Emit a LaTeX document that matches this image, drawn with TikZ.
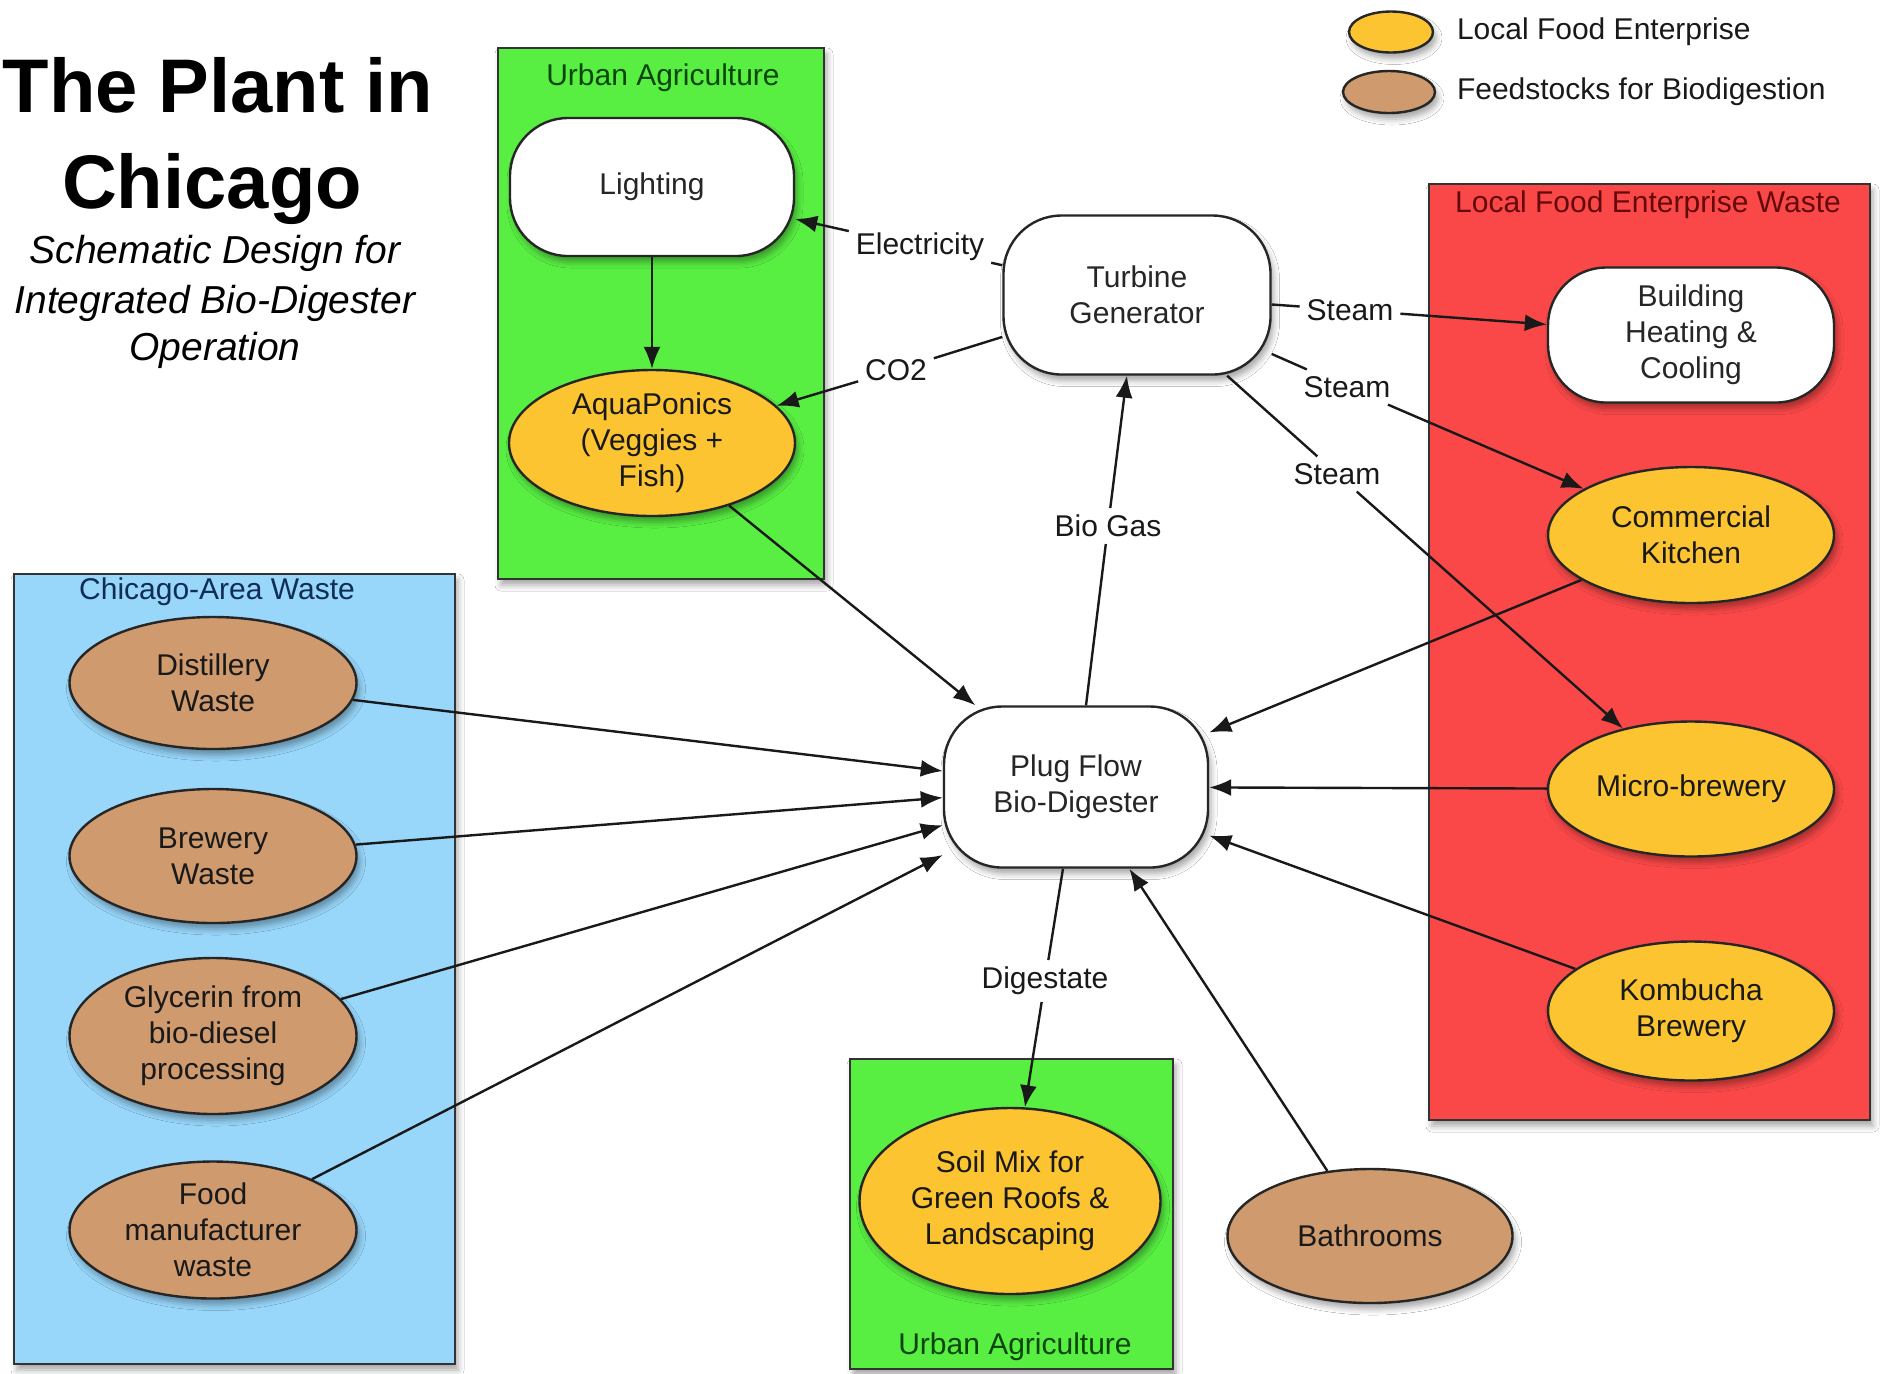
\documentclass[tikz,border=0pt]{standalone}
\usepackage{fontspec}
\setmainfont{Liberation Sans}
\usetikzlibrary{arrows.meta,shapes.geometric,shadows.blur}

\definecolor{uagreen}{RGB}{88,238,66}
\definecolor{uagreentext}{RGB}{10,70,10}
\definecolor{wasteblue}{RGB}{152,214,250}
\definecolor{wastebluetext}{RGB}{15,45,85}
\definecolor{enterred}{RGB}{250,72,72}
\definecolor{enterredtext}{RGB}{100,10,10}
\definecolor{foodyellow}{RGB}{252,196,48}
\definecolor{feedbrown}{RGB}{206,154,110}

\newcommand{\diafont}{\fontsize{15}{18}\selectfont}

\tikzset{every picture/.style={line width=1pt}}
\tikzset{
  softshadow/.style={blur shadow={shadow xshift=1.5pt, shadow yshift=-3pt, shadow blur radius=3pt, shadow opacity=35}},
  area/.style={draw=black!80, line width=1.3pt, softshadow},
  areatitle/.style={font=\diafont, inner sep=1pt},
  roundbox/.style={draw=black!85, fill=white, line width=1.2pt, rounded corners=29pt, align=center, font=\diafont, text=black!85, softshadow},
  blob/.style={ellipse, draw=black!85, line width=1.2pt, inner sep=-10pt, align=center, font=\diafont, text=black!90, softshadow},
  food/.style={blob, fill=foodyellow},
  feed/.style={blob, fill=feedbrown},
  lbl/.style={font=\diafont, text=black!90, inner sep=3pt},
  link/.style={line width=1.2pt, black!90},
  flow/.style={link, -{Latex[length=11pt,width=8.5pt]}},
}

\begin{document}
\begin{tikzpicture}[x=0.5pt,y=0.5pt,yscale=-1,xscale=1]
\useasboundingbox (0,0) rectangle (1883,1373);
\fill[white] (0,0) rectangle (1883,1373);

% Title
\node[font=\fontsize{38}{46}\selectfont\bfseries, anchor=base, inner sep=0] (title1) at (218,112) {The Plant in};
\node[font=\fontsize{38}{46}\selectfont\bfseries, anchor=base, inner sep=0] (title2) at (212,208) {Chicago};
\node[font=\fontsize{19.5}{24}\selectfont\itshape, anchor=base, inner sep=0] (sub1) at (215,263) {Schematic Design for};
\node[font=\fontsize{19.5}{24}\selectfont\itshape, anchor=base, inner sep=0] (sub2) at (215,313) {Integrated Bio-Digester};
\node[font=\fontsize{19.5}{24}\selectfont\itshape, anchor=base, inner sep=0] (sub3) at (215,360) {Operation};

%Shape: Rectangle (areas)
\draw[area, fill=uagreen] (498,48) rectangle (824,579);
\draw[area, fill=uagreen] (850,1059) rectangle (1173,1369);
\draw[area, fill=wasteblue] (14,574) rectangle (455,1364);
\draw[area, fill=enterred] (1429,184) rectangle (1870,1120);

% Text Node (area titles)
\node[areatitle, text=uagreentext] (uatop) at (663,78) {Urban Agriculture};
\node[areatitle, text=uagreentext] (uabot) at (1015,1347) {Urban Agriculture};
\node[areatitle, text=wastebluetext] (cawaste) at (217,592) {Chicago-Area Waste};
\node[areatitle, text=enterredtext] (lfwaste) at (1648,205) {Local Food Enterprise Waste};

% Legend
\node[food, minimum width=42pt, minimum height=20.5pt] (lgfood) at (1391,32) {};
\node[feed, minimum width=46pt, minimum height=21pt] (lgfeed) at (1389,92) {};
\node[lbl, anchor=west] (lgfoodtxt) at (1450,32) {Local Food Enterprise};
\node[lbl, anchor=west] (lgfeedtxt) at (1450,92) {Feedstocks for Biodigestion};

% Urban agriculture
\node[roundbox, minimum width=142pt, minimum height=69pt] (lighting) at (652,187) {Lighting};
\node[food, minimum width=143pt, minimum height=73pt] (aquaponics) at (652,443) {AquaPonics\\(Veggies +\\Fish)};
\node[food, minimum width=150.5pt, minimum height=93pt] (soilmix) at (1010,1201) {Soil Mix for\\Green Roofs \&\\Landscaping};

% Plant core
\node[roundbox, minimum width=133.5pt, minimum height=79.5pt] (turbine) at (1137,295) {Turbine\\Generator};
\node[roundbox, minimum width=132pt, minimum height=80.5pt] (digester) at (1076,787) {Plug Flow\\Bio-Digester};

% Local food enterprise waste
\node[roundbox, minimum width=143pt, minimum height=67.5pt] (heating) at (1691,335) {Building\\Heating \&\\Cooling};
\node[food, minimum width=143pt, minimum height=68pt] (kitchen) at (1691,535) {Commercial\\Kitchen};
\node[food, minimum width=143pt, minimum height=67.5pt] (microbrew) at (1691,789) {Micro-brewery};
\node[food, minimum width=143pt, minimum height=69.5pt] (kombucha) at (1691,1011) {Kombucha\\Brewery};

% Chicago-area waste
\node[feed, minimum width=143.5pt, minimum height=66pt] (distillery) at (213,683) {Distillery\\Waste};
\node[feed, minimum width=143.5pt, minimum height=67pt] (brewery) at (213,856) {Brewery\\Waste};
\node[feed, minimum width=143.5pt, minimum height=78pt] (glycerin) at (213,1036) {Glycerin from\\bio-diesel\\processing};
\node[feed, minimum width=143.5pt, minimum height=68.5pt] (foodwaste) at (213,1230) {Food\\manufacturer\\waste};
\node[feed, minimum width=142.5pt, minimum height=67pt] (bathrooms) at (1370,1236) {Bathrooms};

% Text Node (connector labels)
\node[lbl] (elec) at (920,247) {Electricity};
\node[lbl] (co2) at (896,370) {CO2};
\node[lbl] (steamA) at (1350,310) {Steam};
\node[lbl] (steamB) at (1347,387) {Steam};
\node[lbl] (steamC) at (1337,474) {Steam};
\node[lbl] (biogas) at (1108,526) {Bio Gas};
\node[lbl] (digestate) at (1045,981) {Digestate};

% Connectors
\draw[link] (turbine) -- (elec);
\draw[flow] (elec) -- (lighting);
\draw[link] (turbine) -- (co2);
\draw[flow] (co2) -- (aquaponics);
\draw[flow] (lighting) -- (aquaponics);
\draw[link] (turbine) -- (steamA);
\draw[flow] (steamA) -- (heating);
\draw[link] (turbine) -- (steamB);
\draw[flow] (steamB) -- (kitchen);
\draw[link] (turbine) -- (steamC);
\draw[flow] (steamC) -- (microbrew);
\draw[link] (digester) -- (biogas);
\draw[flow] (biogas) -- (turbine);
\draw[link] (digester) -- (digestate);
\draw[flow] (digestate) -- (soilmix);
\foreach \src in {distillery,brewery,glycerin,foodwaste,aquaponics,kitchen,microbrew,kombucha,bathrooms}
  \draw[flow] (\src) -- (digester);

\end{tikzpicture}
\end{document}
